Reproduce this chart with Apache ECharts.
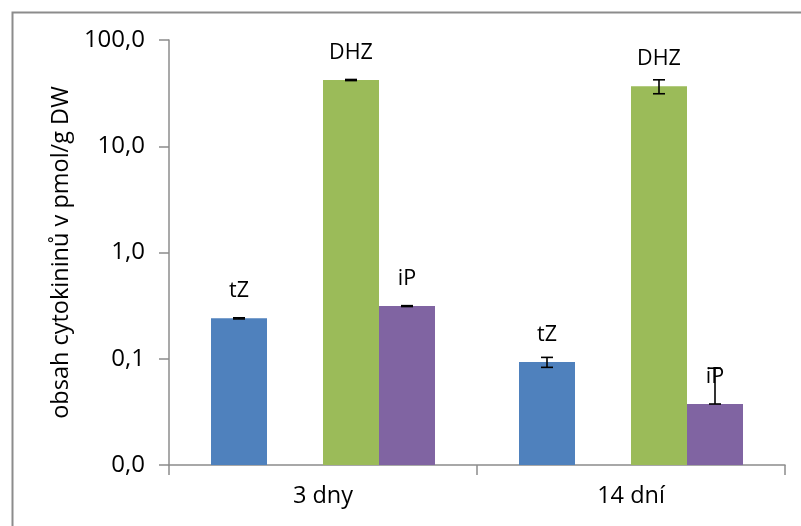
<!DOCTYPE html>
<html>
<head>
<meta charset="utf-8">
<script src="https://cdn.jsdelivr.net/npm/echarts@6/dist/echarts.min.js"></script>
<style>
html,body{margin:0;padding:0;background:#fff;}
#chart{width:801px;height:526px;}
</style>
</head>
<body>
<div id="chart"></div>
<script>
const categories = ['3 dny', '14 dní'];
const seriesNames = ['tZ', 'DHZ', 'iP'];
const tZ = [0.24, 0.093];
const DHZ = [42, 36.7];
const iP = [0.313, 0.0375];
const tZErr = [0.003, 0.01];
const DHZErr = [0.5, 5.5];
const iPErr = [0.003, 0.044];
const yTickValues = [0.01, 0.1, 1, 10, 100];

const colors = ['#4F81BD', '#9BBB59', '#8064A2'];
const FONT = 'Open Sans';
const BAR_W = 56;
const SLOTS = 4; // tZ, (empty), DHZ, iP
const slotOf = [0, 2, 3];

const chart = echarts.init(document.getElementById('chart'));

function errData(vals, errs) {
  return vals.map((v, i) => [i, v, v - errs[i], v + errs[i]]);
}

function makeErr(idx, vals, errs) {
  return {
    type: 'custom',
    name: seriesNames[idx] + ' err',
    z: 5,
    data: errData(vals, errs),
    encode: { x: 0, y: 1 },
    renderItem: function (params, api) {
      const ci = api.value(0);
      const v = api.value(1);
      let lo = api.value(2);
      const hi = api.value(3);
      if (!(lo > 0)) lo = v;
      const c = api.coord([ci, v]);
      const off = (slotOf[idx] - (SLOTS - 1) / 2) * BAR_W;
      const x = c[0] + off;
      const yLo = api.coord([ci, lo])[1];
      const yHi = api.coord([ci, hi])[1];
      const cap = 6;
      const st = { stroke: '#000', lineWidth: 1.6 };
      return {
        type: 'group',
        children: [
          { type: 'line', shape: { x1: x, y1: yLo, x2: x, y2: yHi }, style: st },
          { type: 'line', shape: { x1: x - cap, y1: yLo, x2: x + cap, y2: yLo }, style: st },
          { type: 'line', shape: { x1: x - cap, y1: yHi, x2: x + cap, y2: yHi }, style: st }
        ]
      };
    }
  };
}

function makeBar(idx, vals) {
  return {
    type: 'bar',
    name: seriesNames[idx],
    data: vals,
    barWidth: BAR_W,
    barGap: '0%',
    itemStyle: { color: colors[idx] },
    label: {
      show: true,
      position: 'top',
      distance: 16,
      formatter: '{a}',
      color: '#000',
      fontFamily: FONT,
      fontSize: 21.5
    }
  };
}

const option = {
  animation: false,
  backgroundColor: '#fff',
  graphic: [{
    type: 'rect',
    left: 10, top: 10,
    shape: { x: 0, y: 0, width: 820, height: 540 },
    style: { fill: 'none', stroke: '#8c8c8c', lineWidth: 2 },
    silent: true
  }],
  grid: { left: 169, right: 16, top: 40, bottom: 61 },
  xAxis: {
    type: 'category',
    data: categories,
    axisLine: { lineStyle: { color: '#8c8c8c', width: 1.5 } },
    axisTick: { show: true, length: 10, lineStyle: { color: '#8c8c8c', width: 1.5 } },
    axisLabel: { color: '#000', fontFamily: FONT, fontSize: 23.5, margin: 19 }
  },
  yAxis: {
    type: 'log',
    logBase: 10,
    min: yTickValues[0],
    max: yTickValues[yTickValues.length - 1],
    startValue: yTickValues[0],
    name: 'obsah cytokininů v pmol/g DW',
    nameLocation: 'middle',
    nameGap: 89,
    nameTextStyle: { color: '#000', fontFamily: FONT, fontSize: 23.5 },
    axisLine: { show: true, lineStyle: { color: '#8c8c8c', width: 1.5 } },
    axisTick: { show: true, length: 10, lineStyle: { color: '#8c8c8c', width: 1.5 } },
    splitLine: { show: false },
    axisLabel: {
      color: '#000', fontFamily: FONT, fontSize: 24, margin: 24,
      formatter: function (v) { return Number(v).toFixed(1).replace('.', ','); }
    }
  },
  series: [
    makeBar(0, tZ),
    { type: 'bar', name: '', data: [null, null], barWidth: BAR_W, barGap: '0%' },
    makeBar(1, DHZ),
    makeBar(2, iP),
    makeErr(0, tZ, tZErr),
    makeErr(1, DHZ, DHZErr),
    makeErr(2, iP, iPErr)
  ]
};
chart.setOption(option);
</script>
</body>
</html>
